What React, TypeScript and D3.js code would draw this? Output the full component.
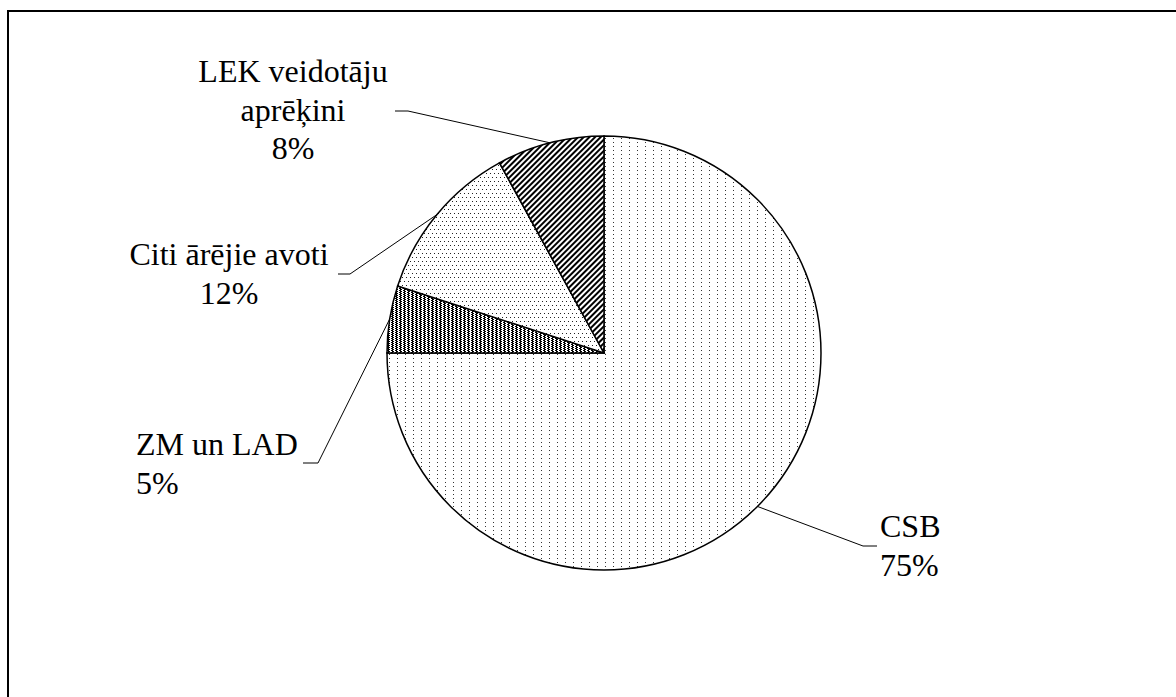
import React from "react";
import * as d3 from "d3";

// slices, clockwise from 12 o'clock
const categories = ["CSB", "ZM un LAD", "Citi ārējie avoti", "LEK veidotāju aprēķini"];
const values = [75, 5, 12, 8];
const labelLines = [
  ["CSB", "75%"],
  ["ZM un LAD", "5%"],
  ["Citi ārējie avoti", "12%"],
  ["LEK veidotāju", "aprēķini", "8%"],
];
const fills = ["url(#dotsSparse)", "url(#vStripes)", "url(#dotsDense)", "url(#diag)"];

const W = 1176;
const H = 697;
const cx = 604;
const cy = 353;
const R = 217;
const FS = 32;
const LH = 38.5;

// label placement: text x/anchor/first baseline, leader elbow and end
const labelLayout = [
  { x: 880, anchor: "start", y: 537, elbow: [863, 546], end: [877, 546] },
  { x: 136, anchor: "start", y: 455, elbow: [318, 463], end: [303, 463] },
  { x: 229, anchor: "middle", y: 265, elbow: [350, 274], end: [338, 274] },
  { x: 293, anchor: "middle", y: 82, elbow: [408, 111], end: [395, 111] },
];

export default function App() {
  const pie = d3
    .pie<number>()
    .sort(null)
    .startAngle(0)
    .endAngle(2 * Math.PI)
    .value((d) => d);
  const arcs = pie(values);
  const arc = d3.arc<d3.PieArcDatum<number>>().innerRadius(0).outerRadius(R);
  const edge = d3.arc<d3.PieArcDatum<number>>().innerRadius(R).outerRadius(R);

  return (
    <svg
      width={W}
      height={H}
      style={{ position: "absolute", left: 0, top: 0, background: "#fff" }}
    >
      <defs>
        <pattern id="dotsSparse" width={8} height={4} patternUnits="userSpaceOnUse">
          <rect width={8} height={4} fill="#fff" />
          <rect x={1} y={1} width={1} height={1} fill="#333" />
        </pattern>
        <pattern id="dotsDense" width={8} height={8} patternUnits="userSpaceOnUse">
          <rect width={8} height={8} fill="#fff" />
          <rect x={0} y={0} width={1} height={1} fill="#222" />
          <rect x={4} y={0} width={1} height={1} fill="#222" />
          <rect x={2} y={4} width={1} height={1} fill="#222" />
          <rect x={6} y={4} width={1} height={1} fill="#222" />
        </pattern>
        <pattern id="vStripes" width={4} height={2} patternUnits="userSpaceOnUse">
          <rect width={4} height={2} fill="#fff" />
          <rect x={0} y={0} width={1} height={2} fill="#000" />
          <rect x={1} y={0} width={1} height={1} fill="#000" />
          <rect x={3} y={1} width={1} height={1} fill="#000" />
        </pattern>
        <pattern
          id="diag"
          width={4}
          height={4}
          patternUnits="userSpaceOnUse"
          patternTransform="rotate(45)"
        >
          <rect width={4} height={4} fill="#fff" />
          <rect x={0} y={0} width={2} height={4} fill="#000" />
        </pattern>
      </defs>

      <rect x={0} y={0} width={W} height={H} fill="#fff" />
      <path d={`M8,${H + 5} L8,11 L${W + 5},11`} fill="none" stroke="#000" strokeWidth={2} />

      <g transform={`translate(${cx},${cy})`}>
        {arcs.map((a, i) => (
          <path key={categories[i]} d={arc(a) || ""} fill={fills[i]} stroke="#000" strokeWidth={1.5} />
        ))}
      </g>

      {arcs.map((a, i) => {
        const [ex, ey] = edge.centroid(a);
        const L = labelLayout[i];
        return (
          <g key={"lab" + i}>
            <polyline
              points={`${cx + ex},${cy + ey} ${L.elbow[0]},${L.elbow[1]} ${L.end[0]},${L.end[1]}`}
              fill="none"
              stroke="#000"
              strokeWidth={1}
            />
            {labelLines[i].map((t, j) => (
              <text
                key={j}
                x={L.x}
                y={L.y + j * LH}
                textAnchor={L.anchor}
                fontSize={FS}
                fill="#000"
                style={{ fontFamily: '"Liberation Serif"' }}
              >
                {t}
              </text>
            ))}
          </g>
        );
      })}
    </svg>
  );
}
